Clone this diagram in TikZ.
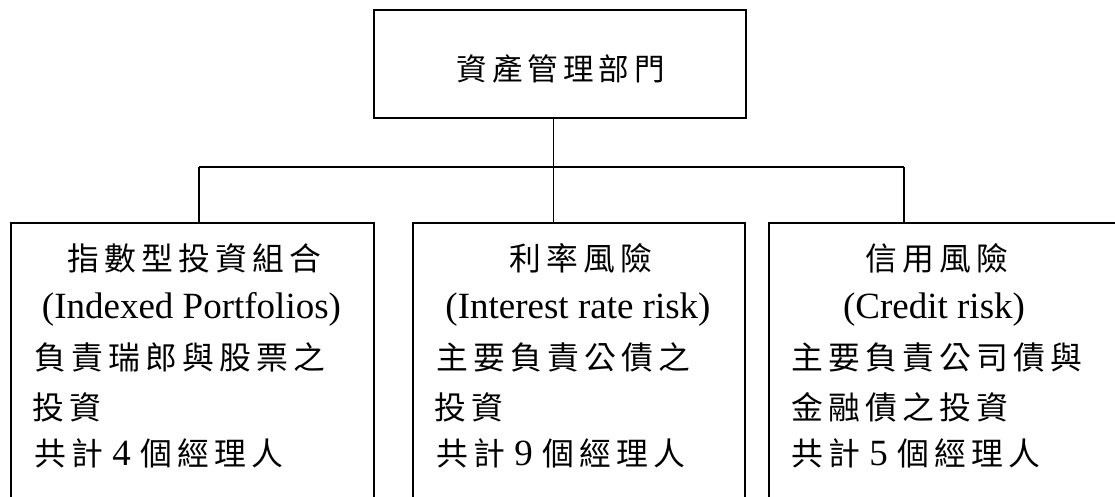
\documentclass[tikz,border=0pt]{standalone}
\usepackage{fontspec}
\setmainfont{Liberation Serif}
\newfontfamily\cjk{Noto Sans CJK TC}[Scale=0.86,LetterSpace=16.3]
\begin{document}
\begin{tikzpicture}[x=1pt,y=-1pt,
  box/.style={draw, line width=1.8pt, inner sep=0pt, anchor=north west},
  conn/.style={line width=1.8pt},
  txt/.style={inner sep=0pt, anchor=base, font=\fontsize{37}{49}\selectfont},
  ltxt/.style={inner sep=0pt, anchor=base west, font=\fontsize{37}{49}\selectfont}]
\useasboundingbox (0,0) rectangle (1115,497);
\clip (0,0) rectangle (1115,497);
% boxes
\node[box, minimum width=372pt, minimum height=108pt] (T) at (373,9) {};
\node[box, minimum width=363pt, minimum height=340pt] (L) at (10,222) {};
\node[box, minimum width=332pt, minimum height=340pt] (M) at (412,222) {};
\node[box, minimum width=380pt, minimum height=340pt] (R) at (768,222) {};
% connectors
\coordinate (hl) at (199,167);
\coordinate (hm) at (553.5,167);
\coordinate (hr) at (904,167);
\draw[conn] (hl) -- (hr);
\draw[conn] (T.south -| hm) -- (M.north -| hm);
\draw[conn] (hl) -- (hl |- L.north);
\draw[conn] (hr) -- (hr |- R.north);
% top text
\node[txt, font=\fontsize{35.5}{45}\selectfont] (t0) at (561,81) {\cjk 資產管理部門};
% left
\node[txt] (l1) at (194,270) {\cjk 指數型投資組合};
\node[txt] (l2) at (191.5,318) {(Indexed Portfolios)};
\node[ltxt] (l3) at (34,369) {\cjk 負責瑞郎與股票之};
\node[ltxt] (l4) at (32,419) {\cjk 投資};
\node[ltxt] (l5) at (34,465) {{\cjk 共計} 4 {\cjk 個經理人}};
% middle
\node[txt] (m1) at (580.5,270) {\cjk 利率風險};
\node[txt] (m2) at (578,318) {(Interest rate risk)};
\node[ltxt] (m3) at (436,369) {\cjk 主要負責公債之};
\node[ltxt] (m4) at (434,419) {\cjk 投資};
\node[ltxt] (m5) at (436,465) {{\cjk 共計} 9 {\cjk 個經理人}};
% right
\node[txt] (r1) at (936.5,270) {\cjk 信用風險};
\node[txt] (r2) at (934,318) {(Credit risk)};
\node[ltxt] (r3) at (791,369) {\cjk 主要負責公司債與};
\node[ltxt] (r4) at (791,419) {\cjk 金融債之投資};
\node[ltxt] (r5) at (791,465) {{\cjk 共計} 5 {\cjk 個經理人}};
\end{tikzpicture}
\end{document}
